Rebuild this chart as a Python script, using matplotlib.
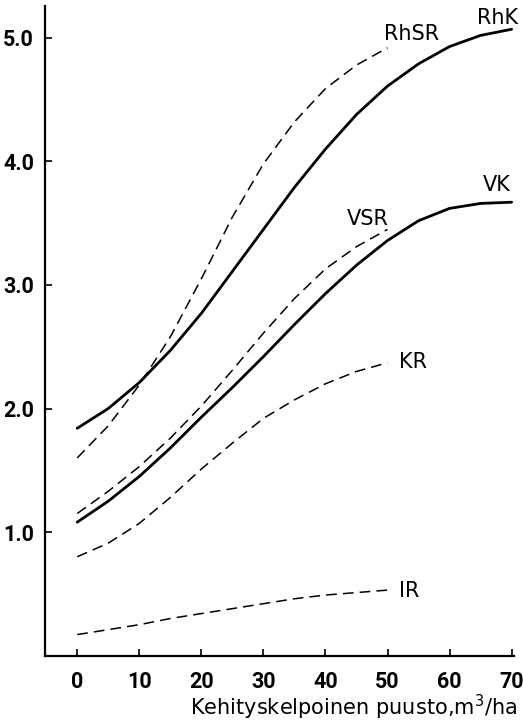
import matplotlib.pyplot as plt

# data
x_long = [0, 5, 10, 15, 20, 25, 30, 35, 40, 45, 50, 55, 60, 65, 70]
x_short = [0, 5, 10, 15, 20, 25, 30, 35, 40, 45, 50]

rhk = [1.84, 2.00, 2.21, 2.47, 2.77, 3.11, 3.45, 3.79, 4.10, 4.38, 4.61, 4.79, 4.93, 5.02, 5.07]
vk = [1.08, 1.25, 1.45, 1.68, 1.93, 2.17, 2.42, 2.68, 2.93, 3.16, 3.36, 3.52, 3.62, 3.66, 3.67]
rhsr = [1.60, 1.86, 2.19, 2.58, 3.05, 3.55, 3.98, 4.32, 4.59, 4.78, 4.92]
vsr = [1.15, 1.33, 1.53, 1.76, 2.02, 2.31, 2.61, 2.89, 3.13, 3.31, 3.45]
kr = [0.80, 0.91, 1.07, 1.28, 1.51, 1.72, 1.92, 2.07, 2.20, 2.30, 2.37]
ir = [0.17, 0.21, 0.25, 0.30, 0.34, 0.38, 0.42, 0.46, 0.49, 0.51, 0.53]

x_ticks = [0, 10, 20, 30, 40, 50, 60, 70]
y_ticks = [1.0, 2.0, 3.0, 4.0, 5.0]

fig = plt.figure(figsize=(5.23, 7.22), dpi=100)
ax = fig.add_axes([0.086, 0.092, 0.897, 0.9])

solid = dict(color="black", linewidth=2.0, solid_capstyle="round", solid_joinstyle="round")
dashed = dict(color="black", linewidth=1.1, linestyle=(0, (7, 4)))

ax.plot(x_long, rhk, **solid)
ax.plot(x_long, vk, **solid)
ax.plot(x_short, rhsr, **dashed)
ax.plot(x_short, vsr, **dashed)
ax.plot(x_short, kr, **dashed)
ax.plot(x_short, ir, **dashed)

lab = dict(fontsize=15, family="DejaVu Sans", ha="left", va="center")
ax.text(49.4, 5.03, "RhSR", **lab)
ax.text(64.5, 5.16, "RhK", **lab)
ax.text(65.3, 3.81, "VK", **lab)
ax.text(43.5, 3.53, "VSR", **lab)
ax.text(51.8, 2.38, "KR", **lab)
ax.text(51.8, 0.52, "IR", **lab)

ax.set_xlim(-5.2, 70.4)
ax.set_ylim(0, 5.26)
ax.spines["top"].set_visible(False)
ax.spines["right"].set_visible(False)
ax.spines["left"].set_linewidth(1.6)
ax.spines["bottom"].set_linewidth(1.6)

ax.set_xticks(x_ticks)
ax.set_xticklabels([str(v) for v in x_ticks], fontfamily="Roboto", fontweight="bold", fontsize=15.5)
ax.set_yticks(y_ticks)
ax.set_yticklabels(["%.1f" % v for v in y_ticks], fontfamily="Roboto", fontweight="bold", fontsize=15.5)
ax.tick_params(axis="x", direction="in", length=5, width=1.2, pad=11)
ax.tick_params(axis="y", direction="in", length=5, width=1.2, pad=8)

fig.text(517 / 523, 1 - 707 / 722, "Kehityskelpoinen puusto,m$^{3}$/ha",
         fontsize=15, family="DejaVu Sans", ha="right", va="center")

plt.savefig("out.png", dpi=100)
